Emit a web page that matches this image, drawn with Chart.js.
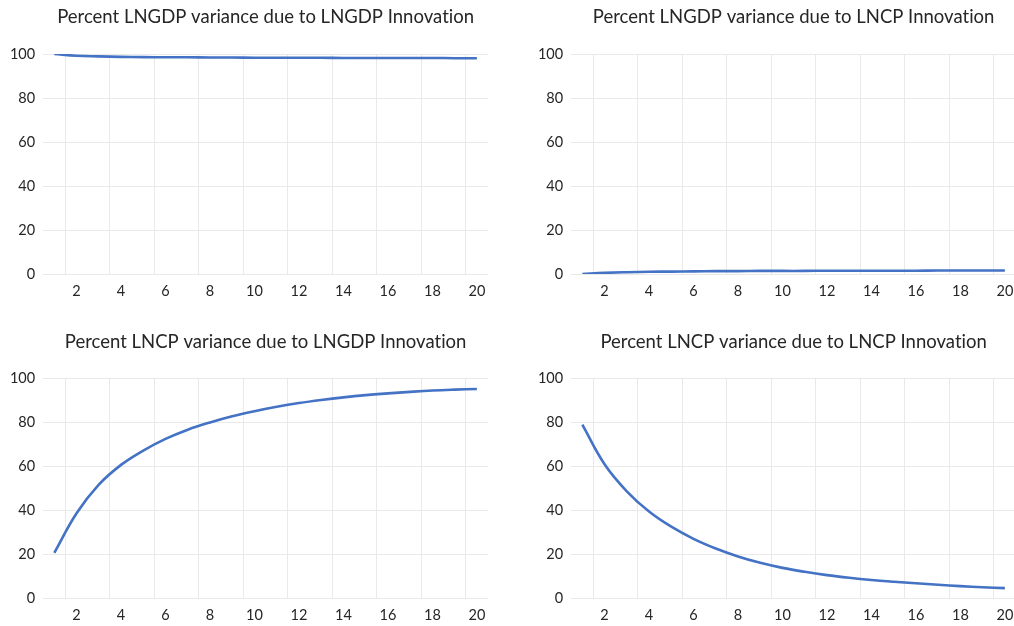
<!DOCTYPE html>
<html><head><meta charset="utf-8">
<script src="https://cdn.jsdelivr.net/npm/chart.js@4"></script>
<style>
html,body{margin:0;padding:0;background:#fff;overflow:hidden;width:1014px;height:626px}
.panel{position:absolute}
canvas{display:block}
</style>
</head><body>
<div class="panel" id="p1"><canvas id="c1"></canvas></div>
<div class="panel" id="p2"><canvas id="c2"></canvas></div>
<div class="panel" id="p3"><canvas id="c3"></canvas></div>
<div class="panel" id="p4"><canvas id="c4"></canvas></div>
<script>
// ---- data ----
const horizons = [1,2,3,4,5,6,7,8,9,10,11,12,13,14,15,16,17,18,19,20];
const xTickLabels = [2,4,6,8,10,12,14,16,18,20];
const yTickValues = [0,20,40,60,80,100];

const titles = [
  'Percent LNGDP variance due to LNGDP Innovation',
  'Percent LNGDP variance due to LNCP Innovation',
  'Percent LNCP variance due to LNGDP Innovation',
  'Percent LNCP variance due to LNCP Innovation'
];
const gdpByGdp = [100,99.2,98.9,98.7,98.6,98.5,98.5,98.4,98.4,98.3,98.3,98.3,98.3,98.2,98.2,98.2,98.2,98.2,98.1,98.1];
const gdpByCp  = [0,0.5,0.8,1.0,1.1,1.2,1.3,1.3,1.4,1.4,1.4,1.5,1.5,1.5,1.5,1.5,1.6,1.6,1.6,1.6];
const cpByGdp  = [20.5,38.5,51.5,60.5,67.0,72.3,76.5,79.8,82.6,84.9,86.9,88.6,90.0,91.2,92.2,93.0,93.7,94.3,94.7,95.0];
const cpByCp   = [78.8,60.8,48.5,39.3,32.4,26.9,22.5,18.9,16.0,13.7,11.9,10.4,9.2,8.2,7.4,6.7,6.0,5.4,4.9,4.5];
const seriesList = [gdpByGdp, gdpByCp, cpByGdp, cpByCp];

// ---- layout (pixels) ----
const AXIS_W = 43.2, TOP_H = 54, BOTTOM_H = 36;
const panelPos = [
  {left:0,   top:0,   w:510, h:310, padR:22, t1:5.9},
  {left:528, top:0,   w:488, h:310, padR:0,  t1:5.9},
  {left:0,   top:324, w:510, h:310, padR:22, t1:6.6},
  {left:528, top:324, w:488, h:310, padR:0,  t1:6.6}
];

const TEXT = '#262626';
const GRID = '#e9e9e9';
const LINE = '#4472C4';
const FONT = 'Lato';

const gridTicks = xTickLabels.map(v => v - 0.5);
const allXTicks = [];
xTickLabels.forEach((v,i)=>{ allXTicks.push(gridTicks[i]); allXTicks.push(v); });

const noLigatures = {
  id: 'noLigatures',
  beforeDraw(chart) { try { chart.ctx.letterSpacing = '0.01px'; } catch(e) {} }
};

for (let i = 0; i < 4; i++) {
  const pos = panelPos[i];
  const div = document.getElementById('p' + (i+1));
  const cv = document.getElementById('c' + (i+1));
  div.style.left = pos.left + 'px';
  div.style.top = pos.top + 'px';
  div.style.width = pos.w + 'px';
  div.style.height = pos.h + 'px';
  cv.width = pos.w; cv.height = pos.h;
  cv.style.width = pos.w + 'px'; cv.style.height = pos.h + 'px';
  const titleLH = 18.5 * 1.2;
  const t2 = TOP_H - pos.t1 - titleLH;
  new Chart(cv, {
    type: 'line',
    plugins: [noLigatures],
    data: {
      datasets: [{
        data: horizons.map((h,k)=>({x:h, y:seriesList[i][k]})),
        borderColor: LINE,
        borderWidth: 2.6,
        pointRadius: 0,
        tension: 0.4,
        fill: false
      }]
    },
    options: {
      responsive: false,
      maintainAspectRatio: false,
      animation: false,
      devicePixelRatio: 1,
      layout: {padding: {left:0, right:pos.padR, top:0, bottom:0}},
      plugins: {
        legend: {display:false},
        tooltip: {enabled:false},
        title: {
          display: true,
          text: titles[i],
          fullSize: false,
          color: TEXT,
          font: {family: FONT, size: 18.5, weight: 'normal', lineHeight: 1.2},
          padding: {top: pos.t1, bottom: t2}
        }
      },
      scales: {
        x: {
          type: 'linear',
          min: 0.5, max: 20.5,
          afterBuildTicks: s => { s.ticks = allXTicks.map(v=>({value:v})); },
          afterFit: s => { s.height = BOTTOM_H; s.paddingLeft = 0; s.paddingRight = 0; },
          grid: {
            drawTicks: false,
            color: ctx => (ctx.tick && ctx.tick.value % 1 !== 0) ? GRID : 'rgba(0,0,0,0)',
            lineWidth: 1
          },
          border: {display:false},
          ticks: {
            autoSkip: false, maxRotation: 0, minRotation: 0,
            padding: 9,
            color: TEXT,
            font: {family: FONT, size: 14.5},
            callback: v => (v % 1 === 0) ? String(v) : ''
          }
        },
        y: {
          min: 0, max: 100,
          afterBuildTicks: s => { s.ticks = yTickValues.map(v=>({value:v})); },
          afterFit: s => { s.width = AXIS_W; },
          grid: {drawTicks:false, color: GRID, lineWidth: 1},
          border: {display:false},
          ticks: {
            padding: 8,
            color: TEXT,
            font: {family: FONT, size: 14.5}
          }
        }
      }
    }
  });
}
</script></body></html>
